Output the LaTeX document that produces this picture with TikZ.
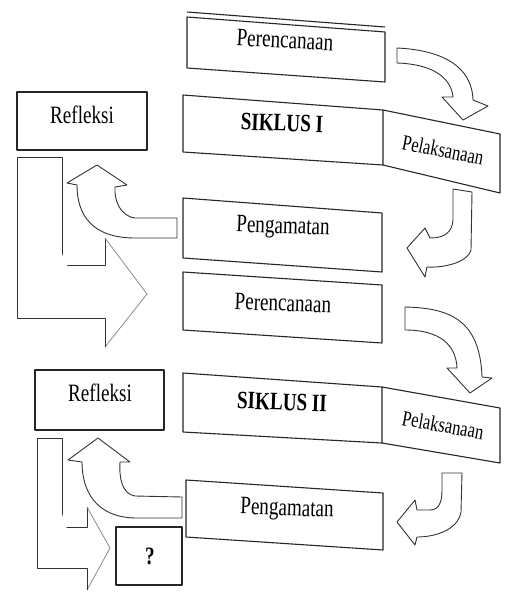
\documentclass[tikz,border=0pt]{standalone}
\usepackage{graphicx}
\usepackage{fontspec}
\setmainfont{Liberation Serif}
\newcommand{\talltext}[1]{\scalebox{0.98}[1.28]{#1}}
\begin{document}
\begin{tikzpicture}[x=1pt,y=-1pt,
  boxline/.style={draw=black!85,line width=1.1pt,line join=round},
  arrowline/.style={draw=black!80,line width=0.9pt,line join=round,fill=white},
  lightline/.style={draw=black!45,line width=0.8pt},
  lbl/.style={font=\fontsize{19.5}{22}\selectfont,inner sep=0pt},
  lblb/.style={font=\fontsize{19.5}{22}\selectfont\bfseries,inner sep=0pt},
  lbls/.style={font=\fontsize{17}{20}\selectfont,inner sep=0pt}]
\useasboundingbox (0,0) rectangle (504,592);
\fill[white] (0,0) rectangle (504,592);

% ---- cycle I ----
\draw[boxline] (187,17) -- (385,32) -- (385,82) -- (187,68) -- cycle;
\draw[boxline] (187,12) -- (385,27);
\node[lbl,rotate=-3] (per1) at (285,40) {\talltext{Perencanaan}};

\draw[boxline] (17,92) rectangle (147,150);
\node[lbl] (ref1) at (82,115) {\talltext{Refleksi}};

\draw[boxline] (183,95) -- (383,110) -- (383,165) -- (183,152) -- cycle;
\draw[boxline] (383,110) -- (500,134) -- (500,193) -- (383,165);
\node[lblb,rotate=-2] (sik1) at (282,123) {\talltext{SIKLUS I}};
\node[lbls,rotate=-11] (pel1) at (443,150) {\talltext{Pelaksanaan}};

\draw[boxline] (183,198) -- (382,213) -- (382,272) -- (183,258) -- cycle;
\node[lbl,rotate=-2] (peng1) at (283,228) {\talltext{Pengamatan}};

% arrow Perencanaan -> Pelaksanaan (I)
\draw[arrowline] (397,48) .. controls (440,50) and (472,65) .. (473,100)
  -- (488,106) -- (463,120) -- (442,97) -- (453,97)
  .. controls (451,76) and (430,64) .. (397,63) -- cycle;
% arrow Pelaksanaan -> Pengamatan (I)
\draw[arrowline] (453,189) -- (472,192) -- (471,250)
  .. controls (468,262) and (445,268) .. (427,267)
  -- (425,277) -- (407,248) -- (425,228) -- (430,238)
  .. controls (445,238) and (452,232) .. (453,220) -- cycle;
% arrow Pengamatan -> Refleksi (I)
\draw[arrowline] (177,218) -- (135,218)
  .. controls (120,216) and (114,200) .. (115,187)
  -- (127,185) -- (97,165) -- (67,183) -- (77,185)
  .. controls (77,215) and (92,238) .. (135,238) -- (177,238) -- cycle;
% L arrow (I)
\draw[arrowline] (17,157) -- (62,157) -- (62,265) -- (105,265) -- (105,238);
\draw[lightline] (105,238) -- (147,294) -- (105,347);
\draw[arrowline] (105,347) -- (105,318) -- (17,318) -- (17,157);

% ---- cycle II ----
\draw[boxline] (183,272) -- (382,285) -- (382,343) -- (183,330) -- cycle;
\node[lbl,rotate=-2] (per2) at (283,303) {\talltext{Perencanaan}};

\draw[boxline] (35,370) rectangle (164,430);
\node[lbl] (ref2) at (100,393) {\talltext{Refleksi}};

\draw[boxline] (183,373) -- (382,387) -- (382,443) -- (183,432) -- cycle;
\draw[boxline] (382,387) -- (500,408) -- (500,463) -- (382,443);
\node[lblb,rotate=-2] (sik2) at (282,402) {\talltext{SIKLUS II}};
\node[lbls,rotate=-10] (pel2) at (443,425) {\talltext{Pelaksanaan}};

\draw[boxline] (186,480) -- (383,493) -- (383,550) -- (186,537) -- cycle;
\node[lbl,rotate=-2] (peng2) at (287,510) {\talltext{Pengamatan}};

\draw[boxline] (116,527) rectangle (182,585);
\node[lblb] (q) at (150,556) {\talltext{?}};

% arrow Perencanaan -> Pelaksanaan (II)
\draw[arrowline] (405,307) .. controls (450,308) and (480,320) .. (482,377)
  -- (492,378) -- (470,393) -- (447,368) -- (457,368)
  .. controls (456,345) and (440,330) .. (405,330) -- cycle;
% arrow Pelaksanaan -> Pengamatan (II)
\draw[arrowline] (442,473) -- (462,473) -- (461,512)
  .. controls (458,530) and (435,537) .. (417,537)
  -- (415,545) -- (397,522) -- (415,500) -- (417,510)
  -- (430,510) .. controls (440,510) and (442,500) .. (442,490) -- cycle;
% arrow Pengamatan -> Refleksi (II)
\draw[arrowline] (182,497) -- (135,496)
  .. controls (122,494) and (119,478) .. (120,462)
  -- (130,462) -- (98,438) -- (68,460) -- (82,462)
  .. controls (82,490) and (95,517) .. (135,518) -- (182,518) -- cycle;
% L arrow (II)
\draw[arrowline] (37,438) -- (62,438) -- (62,527) -- (87,527) -- (87,507);
\draw[lightline] (87,507) -- (110,548) -- (87,590);
\draw[arrowline] (87,590) -- (87,568) -- (37,568) -- (37,438);
\end{tikzpicture}
\end{document}
